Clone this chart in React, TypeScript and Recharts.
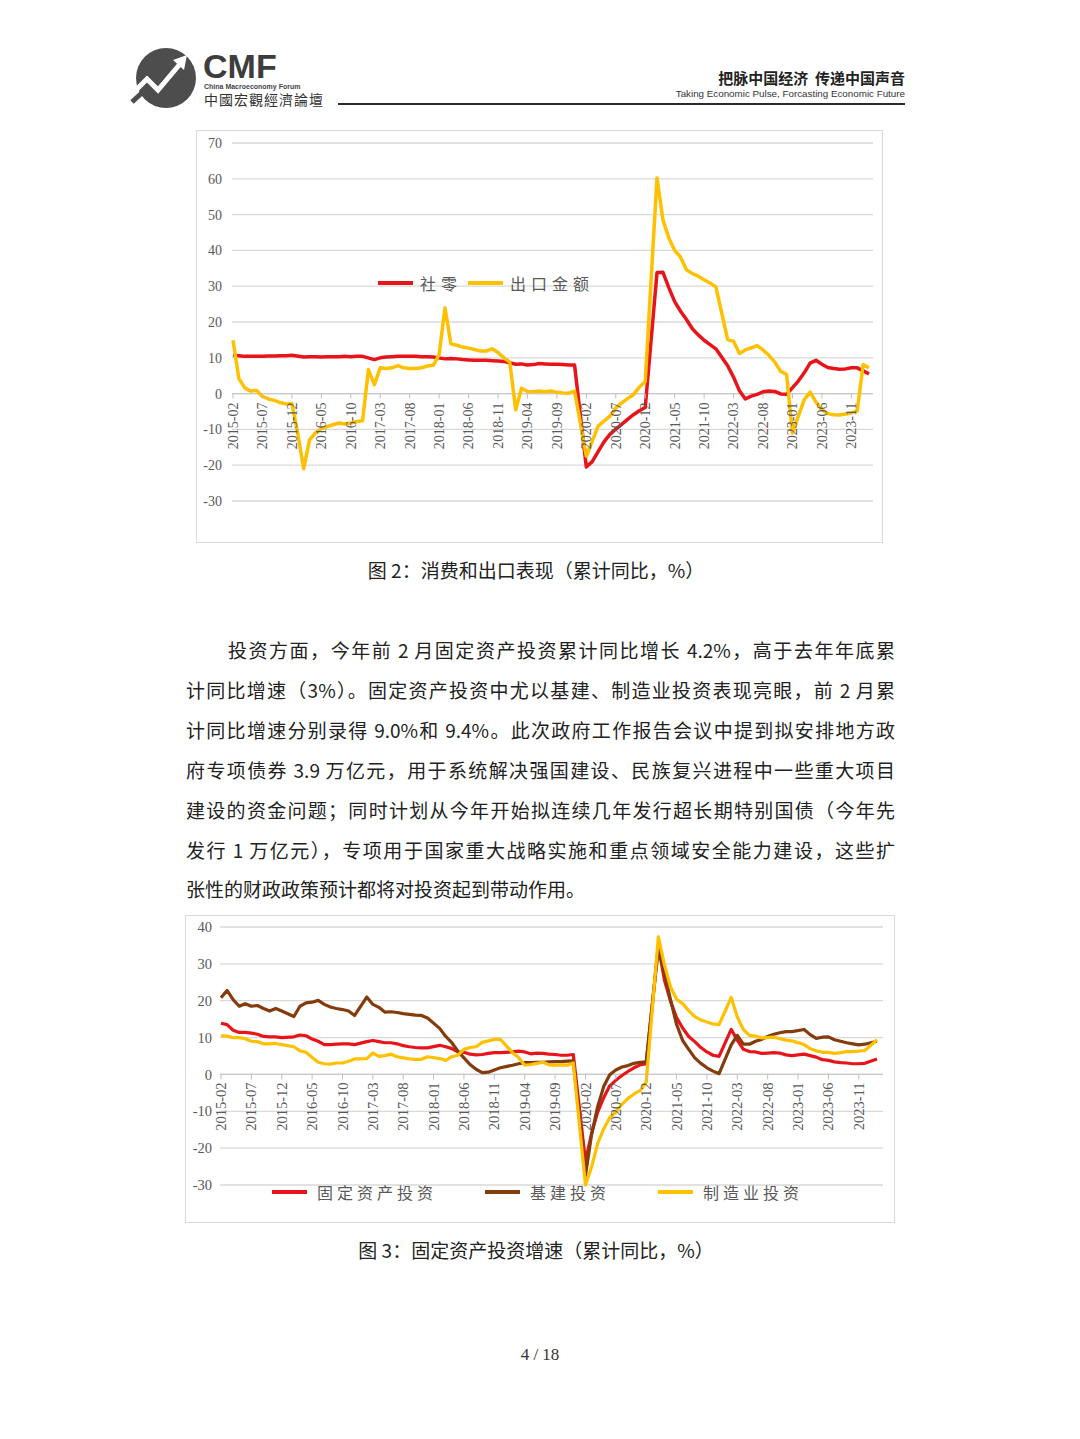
import React from 'react';
import { LineChart, Line, XAxis, YAxis, CartesianGrid, ReferenceLine, Legend } from 'recharts';

// month categories, 2015-02 .. 2024-02
function buildMonths(fromY: number, fromM: number, toY: number, toM: number) {
  const out: string[] = [];
  let y = fromY, m = fromM;
  while (y < toY || (y === toY && m <= toM)) {
    out.push(`${y}-${String(m).padStart(2, '0')}`);
    m++;
    if (m > 12) { m = 1; y++; }
  }
  return out;
}
const months = buildMonths(2015, 2, 2024, 2);

// 图2: 社零 (retail sales, cumulative yoy %), January not published
const retail = [
  10.7, 10.6, 10.4, 10.4, 10.4, 10.4, 10.5, 10.5, 10.6, 10.6, 10.7,
  null, 10.2, 10.3, 10.3, 10.2, 10.3, 10.3, 10.3, 10.4, 10.3, 10.4, 10.4,
  null, 9.5, 10.0, 10.2, 10.3, 10.4, 10.4, 10.4, 10.4, 10.3, 10.3, 10.2,
  null, 9.7, 9.8, 9.7, 9.5, 9.4, 9.3, 9.3, 9.3, 9.2, 9.1, 9.0,
  null, 8.2, 8.3, 8.0, 8.1, 8.4, 8.3, 8.2, 8.2, 8.1, 8.0, 8.0,
  null, -20.5, -19.0, -16.2, -13.5, -11.4, -9.9, -8.6, -7.2, -5.9, -4.8, -3.9,
  null, 33.8, 33.9, 29.6, 25.7, 23.0, 20.7, 18.1, 16.4, 14.9, 13.7, 12.5,
  null, 7.8, 4.6, 0.8, -1.5, -0.7, -0.2, 0.5, 0.7, 0.6, -0.1, -0.2,
  null, 3.5, 5.8, 8.5, 9.3, 8.2, 7.3, 7.0, 6.8, 6.9, 7.2, 7.2,
  null, 5.5,
];

// 图2: 出口金额 (exports, cumulative yoy %)
const exportsYoy = [
  14.9, 4.2, 1.6, 0.7, 0.9, -0.8, -1.5, -1.9, -2.5, -2.9, -2.8,
  -11.2, -21.0, -12.9, -11.0, -9.8, -9.2, -8.7, -8.2, -8.5, -8.2, -7.8, -7.6,
  6.7, 2.5, 7.2, 7.0, 7.2, 7.8, 7.2, 7.0, 7.0, 7.2, 7.7, 7.9,
  10.9, 24.0, 13.9, 13.5, 13.0, 12.7, 12.3, 11.9, 11.9, 12.5, 11.5, 10.0,
  8.8, -4.5, 1.5, 0.6, 0.5, 0.7, 0.5, 0.7, 0.4, 0.2, 0.1, 0.7,
  null, -17.5, -13.3, -9.1, -7.7, -6.3, -4.0, -2.6, -1.4, -0.3, 1.8, 3.4,
  null, 60.2, 48.6, 43.5, 40.0, 38.1, 34.6, 33.5, 32.8, 31.8, 30.9, 29.8,
  null, 15.1, 14.6, 11.2, 12.2, 12.8, 13.4, 12.2, 10.7, 8.8, 6.2, 5.4,
  -11.0, -6.3, -1.7, 0.4, -2.4, -4.5, -5.6, -5.9, -6.0, -5.7, -5.4, -4.9,
  8.1, 7.2,
];

// 图3: 固定资产投资
const fai = [
  13.9, 13.5, 12.0, 11.4, 11.4, 11.2, 10.9, 10.3, 10.2, 10.2, 10.0,
  null, 10.2, 10.7, 10.5, 9.6, 9.0, 8.1, 8.1, 8.2, 8.3, 8.3, 8.1,
  null, 8.9, 9.2, 8.9, 8.6, 8.6, 8.3, 7.8, 7.5, 7.3, 7.2, 7.2,
  null, 7.9, 7.5, 7.0, 6.1, 6.0, 5.5, 5.3, 5.4, 5.7, 5.9, 5.9,
  null, 6.1, 6.3, 6.1, 5.6, 5.8, 5.7, 5.5, 5.4, 5.2, 5.2, 5.4,
  null, -23.5, -16.1, -10.3, -6.3, -3.1, -1.6, -0.3, 0.8, 1.8, 2.6, 2.9,
  null, 35.0, 25.6, 19.9, 15.4, 12.6, 10.3, 8.9, 7.3, 6.1, 5.2, 4.9,
  null, 12.2, 9.3, 6.8, 6.2, 6.1, 5.7, 5.8, 5.9, 5.8, 5.3, 5.1,
  null, 5.5, 5.1, 4.7, 4.0, 3.8, 3.4, 3.2, 3.1, 2.9, 2.9, 3.0,
  null, 4.2,
];

// 图3: 基建投资
const infra = [
  20.8, 22.8, 20.3, 18.5, 19.2, 18.5, 18.7, 17.9, 17.2, 17.9, 17.2,
  null, 15.7, 18.5, 19.4, 19.6, 20.1, 19.0, 18.3, 17.9, 17.6, 17.2, 16.0,
  null, 21.0, 19.0, 18.2, 16.9, 17.0, 16.8, 16.5, 16.3, 16.1, 16.0, 15.3,
  null, 12.5, 10.3, 8.6, 6.3, 4.5, 2.7, 1.4, 0.5, 0.6, 1.2, 1.8,
  null, 2.5, 2.9, 3.2, 3.2, 3.3, 3.3, 3.4, 3.5, 3.5, 3.6, 3.7,
  null, -27.5, -16.4, -8.8, -3.3, -0.1, 1.2, 2.0, 2.4, 3.0, 3.3, 3.4,
  null, 34.3, 27.6, 20.3, 13.6, 9.2, 6.8, 4.5, 3.0, 1.8, 0.9, 0.2,
  null, 8.0, 10.6, 8.2, 8.2, 9.0, 9.5, 10.3, 10.9, 11.3, 11.6, 11.6,
  null, 12.2, 10.8, 9.8, 10.1, 10.2, 9.4, 9.0, 8.6, 8.3, 8.0, 8.2,
  null, 9.0,
];

// 图3: 制造业投资
const mfg = [
  10.5, 10.4, 10.0, 10.0, 9.7, 9.0, 8.9, 8.3, 8.3, 8.4, 8.1,
  null, 7.5, 6.4, 6.0, 4.6, 3.3, 2.9, 2.8, 3.1, 3.1, 3.6, 4.2,
  null, 4.3, 5.8, 4.9, 5.1, 5.5, 4.8, 4.5, 4.2, 4.1, 4.1, 4.8,
  null, 4.3, 3.8, 4.8, 5.2, 6.8, 7.3, 7.5, 8.7, 9.1, 9.5, 9.5,
  null, 5.9, 4.6, 2.5, 2.7, 3.0, 3.3, 2.6, 2.5, 2.6, 2.5, 3.1,
  null, -30.0, -25.2, -18.8, -14.8, -11.7, -10.2, -8.1, -6.5, -5.3, -4.4, -2.2,
  null, 37.3, 29.8, 23.8, 20.4, 19.2, 17.3, 15.7, 14.8, 14.2, 13.7, 13.5,
  null, 20.9, 15.6, 12.2, 10.6, 10.4, 9.9, 10.0, 10.1, 9.7, 9.3, 9.1,
  null, 8.1, 7.0, 6.4, 6.0, 6.0, 5.7, 5.9, 6.2, 6.2, 6.3, 6.5,
  null, 9.4,
];

const ticks1 = [-30, -20, -10, 0, 10, 20, 30, 40, 50, 60, 70];
const ticks2 = [-30, -20, -10, 0, 10, 20, 30, 40];

const RED = '#e8141a';
const GOLD = '#ffc000';
const BROWN = '#843c0c';
const GRID = '#d9d9d9';
const AXIS_TXT = '#595959';
const SERIF = '"Liberation Serif", "DejaVu Serif", serif';
const CJK = '"Noto Sans CJK SC", "Noto Sans", sans-serif';
const SANS = '"Liberation Sans", Arial, sans-serif';

const data1 = months.map((m, i) => ({ month: m, retail: retail[i], exports: exportsYoy[i] }));
const data2 = months.map((m, i) => ({ month: m, fai: fai[i], infra: infra[i], mfg: mfg[i] }));

// x labels sit on the zero line, not at the plot bottom
function ZeroTick(props: any) {
  const { x, y, payload, drop, fontSize, gap } = props;
  const zy = y - drop;
  const ty = zy + gap;
  return (
    <g>
      <line x1={x} x2={x} y1={zy} y2={zy + 5} stroke="#bfbfbf" strokeWidth={1} />
      <text
        x={x}
        y={ty}
        transform={`rotate(-90 ${x} ${ty})`}
        textAnchor="end"
        dy="0.35em"
        fontSize={fontSize}
        fontFamily={SERIF}
        fill={AXIS_TXT}
      >
        {payload.value}
      </text>
    </g>
  );
}

function LegendRow({ items, gap, lineGap, spacing }: { items: { label: string; color: string }[]; gap: number; lineGap: number; spacing: number }) {
  return (
    <div style={{ display: 'flex', alignItems: 'center', whiteSpace: 'nowrap', fontFamily: CJK, fontSize: 16, color: AXIS_TXT, letterSpacing: spacing, lineHeight: '22px' }}>
      {items.map((it, i) => (
        <span key={it.label} style={{ display: 'flex', alignItems: 'center', marginRight: i < items.length - 1 ? gap : 0 }}>
          <span style={{ display: 'inline-block', width: 35, height: 4, background: it.color, marginRight: lineGap }} />
          {it.label}
        </span>
      ))}
    </div>
  );
}

const legend1 = [
  { label: '社零', color: RED },
  { label: '出口金额', color: GOLD },
];
const legend2 = [
  { label: '固定资产投资', color: RED },
  { label: '基建投资', color: BROWN },
  { label: '制造业投资', color: GOLD },
];

function abs(left: number, top: number, extra: React.CSSProperties = {}): React.CSSProperties {
  return { position: 'absolute', left, top, ...extra };
}

const bodyLines = [
  '计同比增速（3%）。固定资产投资中尤以基建、制造业投资表现亮眼，前 2 月累',
  '计同比增速分别录得 9.0%和 9.4%。此次政府工作报告会议中提到拟安排地方政',
  '府专项债券 3.9 万亿元，用于系统解决强国建设、民族复兴进程中一些重大项目',
  '建设的资金问题；同时计划从今年开始拟连续几年发行超长期特别国债（今年先',
  '发行 1 万亿元），专项用于国家重大战略实施和重点领域安全能力建设，这些扩',
];

export default function App() {
  const bodyStyle: React.CSSProperties = {
    fontFamily: CJK,
    fontSize: 19,
    color: '#222',
    lineHeight: '40px',
    height: 40,
    width: 709,
    whiteSpace: 'nowrap',
  };
  return (
    <div style={{ position: 'absolute', left: 0, top: 0, width: 1080, height: 1439, background: '#fff', overflow: 'hidden' }}>
      {/* header */}
      <svg style={abs(130, 46)} width={70} height={64} viewBox="0 0 70 64">
        <circle cx={36} cy={32} r={30} fill="#4d4d4d" />
        <polyline points="6,44 17,33 28,44 50,18" fill="none" stroke="#fff" strokeWidth={5} />
        <polygon points="43,14 57,9 54,24" fill="#fff" />
        <polyline points="2,56 14,45 26,57 36,48" fill="none" stroke="#4d4d4d" strokeWidth={5} />
      </svg>
      <div style={abs(203, 49, { fontFamily: SANS, fontWeight: 700, fontSize: 34, lineHeight: '34px', height: 34, color: '#3d3d3d' })}>CMF</div>
      <div style={abs(204, 83, { fontFamily: SANS, fontWeight: 700, fontSize: 7, lineHeight: '8px', height: 8, color: '#444' })}>China Macroeconomy Forum</div>
      <div style={abs(204, 92, { fontFamily: '"Noto Sans CJK TC", sans-serif', fontSize: 14, lineHeight: '14px', height: 14, color: '#333', letterSpacing: 1 })}>中國宏觀經濟論壇</div>
      <div style={{ position: 'absolute', right: 175, top: 69, fontFamily: CJK, fontWeight: 700, fontSize: 15, lineHeight: '18px', color: '#222', whiteSpace: 'pre' }}>把脉中国经济  传递中国声音</div>
      <div style={{ position: 'absolute', right: 175, top: 88, fontFamily: SANS, fontSize: 9.8, lineHeight: '12px', color: '#333' }}>Taking Economic Pulse, Forcasting Economic Future</div>
      <div style={abs(338, 103, { width: 567, height: 2, background: '#2b2b2b' })} />

      {/* chart 1 */}
      <div style={abs(196, 130, { width: 687, height: 413, border: `1px solid ${GRID}`, boxSizing: 'border-box' })} />
      <div style={abs(196, 130)}>
        <LineChart width={687} height={413} data={data1} margin={{ top: 13, right: 10, left: 0, bottom: 12 }}>
          <CartesianGrid vertical={false} stroke={GRID} strokeWidth={1.3} />
          <XAxis
            dataKey="month"
            interval={4}
            height={30}
            tickSize={0}
            tickMargin={0}
            axisLine={false}
            tickLine={false}
            padding={{ left: 1, right: 4 }}
            tick={<ZeroTick drop={107.4} fontSize={14} gap={9} />}
          />
          <YAxis
            domain={[-30, 70]}
            ticks={ticks1}
            width={36}
            axisLine={false}
            tickLine={false}
            tickMargin={4}
            tick={{ fontSize: 14, fill: AXIS_TXT, fontFamily: SERIF }}
          />
          <ReferenceLine y={0} stroke="#c8c8c8" strokeWidth={1.3} />
          <Legend
            layout="horizontal"
            verticalAlign="middle"
            align="center"
            wrapperStyle={{ top: 142, left: 182, width: 'auto' }}
            content={() => <LegendRow items={legend1} gap={6} lineGap={7} spacing={5} />}
          />
          <Line type="linear" dataKey="retail" stroke={RED} strokeWidth={3.5} dot={false} connectNulls strokeLinejoin="round" isAnimationActive={false} />
          <Line type="linear" dataKey="exports" stroke={GOLD} strokeWidth={3.5} dot={false} connectNulls strokeLinejoin="round" isAnimationActive={false} />
        </LineChart>
      </div>
      <div style={abs(0, 558, { width: 1072, textAlign: 'center', fontFamily: CJK, fontSize: 19, lineHeight: '24px', color: '#222' })}>图 2：消费和出口表现（累计同比，%）</div>

      {/* body */}
      <div style={abs(186, 630, { ...bodyStyle, textAlign: 'justify', textAlignLast: 'justify', textIndent: 42 })}>投资方面，今年前 2 月固定资产投资累计同比增长 4.2%，高于去年年底累</div>
      {bodyLines.map((t, i) => (
        <div key={i} style={abs(186, 670 + i * 40, { ...bodyStyle, textAlign: 'justify', textAlignLast: 'justify' })}>{t}</div>
      ))}
      <div style={abs(186, 869, { ...bodyStyle })}>张性的财政政策预计都将对投资起到带动作用。</div>

      {/* chart 2 */}
      <div style={abs(185, 915, { width: 710, height: 308, border: `1px solid ${GRID}`, boxSizing: 'border-box' })} />
      <div style={abs(185, 915)}>
        <LineChart width={710} height={308} data={data2} margin={{ top: 12, right: 12, left: 0, bottom: 12 }}>
          <CartesianGrid vertical={false} stroke={GRID} strokeWidth={1.3} />
          <XAxis
            dataKey="month"
            interval={4}
            height={26}
            tickSize={0}
            tickMargin={0}
            axisLine={false}
            tickLine={false}
            padding={{ left: 1, right: 6 }}
            tick={<ZeroTick drop={110.57} fontSize={14.5} gap={8} />}
          />
          <YAxis
            domain={[-30, 40]}
            ticks={ticks2}
            width={35}
            axisLine={false}
            tickLine={false}
            tick={{ fontSize: 14.5, fill: AXIS_TXT, fontFamily: SERIF }}
          />
          <ReferenceLine y={0} stroke="#c8c8c8" strokeWidth={1.3} />
          <Legend
            layout="horizontal"
            verticalAlign="middle"
            align="center"
            wrapperStyle={{ top: 266, left: 87, width: 'auto' }}
            content={() => <LegendRow items={legend2} gap={48} lineGap={10} spacing={4} />}
          />
          <Line type="linear" dataKey="fai" stroke={RED} strokeWidth={3.2} dot={false} connectNulls strokeLinejoin="round" isAnimationActive={false} />
          <Line type="linear" dataKey="infra" stroke={BROWN} strokeWidth={3.2} dot={false} connectNulls strokeLinejoin="round" isAnimationActive={false} />
          <Line type="linear" dataKey="mfg" stroke={GOLD} strokeWidth={3.2} dot={false} connectNulls strokeLinejoin="round" isAnimationActive={false} />
        </LineChart>
      </div>
      <div style={abs(0, 1238, { width: 1072, textAlign: 'center', fontFamily: CJK, fontSize: 19, lineHeight: '24px', color: '#222' })}>图 3：固定资产投资增速（累计同比，%）</div>

      <div style={abs(0, 1344, { width: 1080, textAlign: 'center', fontFamily: SERIF, fontSize: 17, lineHeight: '22px', color: '#333' })}>4 / 18</div>
    </div>
  );
}
